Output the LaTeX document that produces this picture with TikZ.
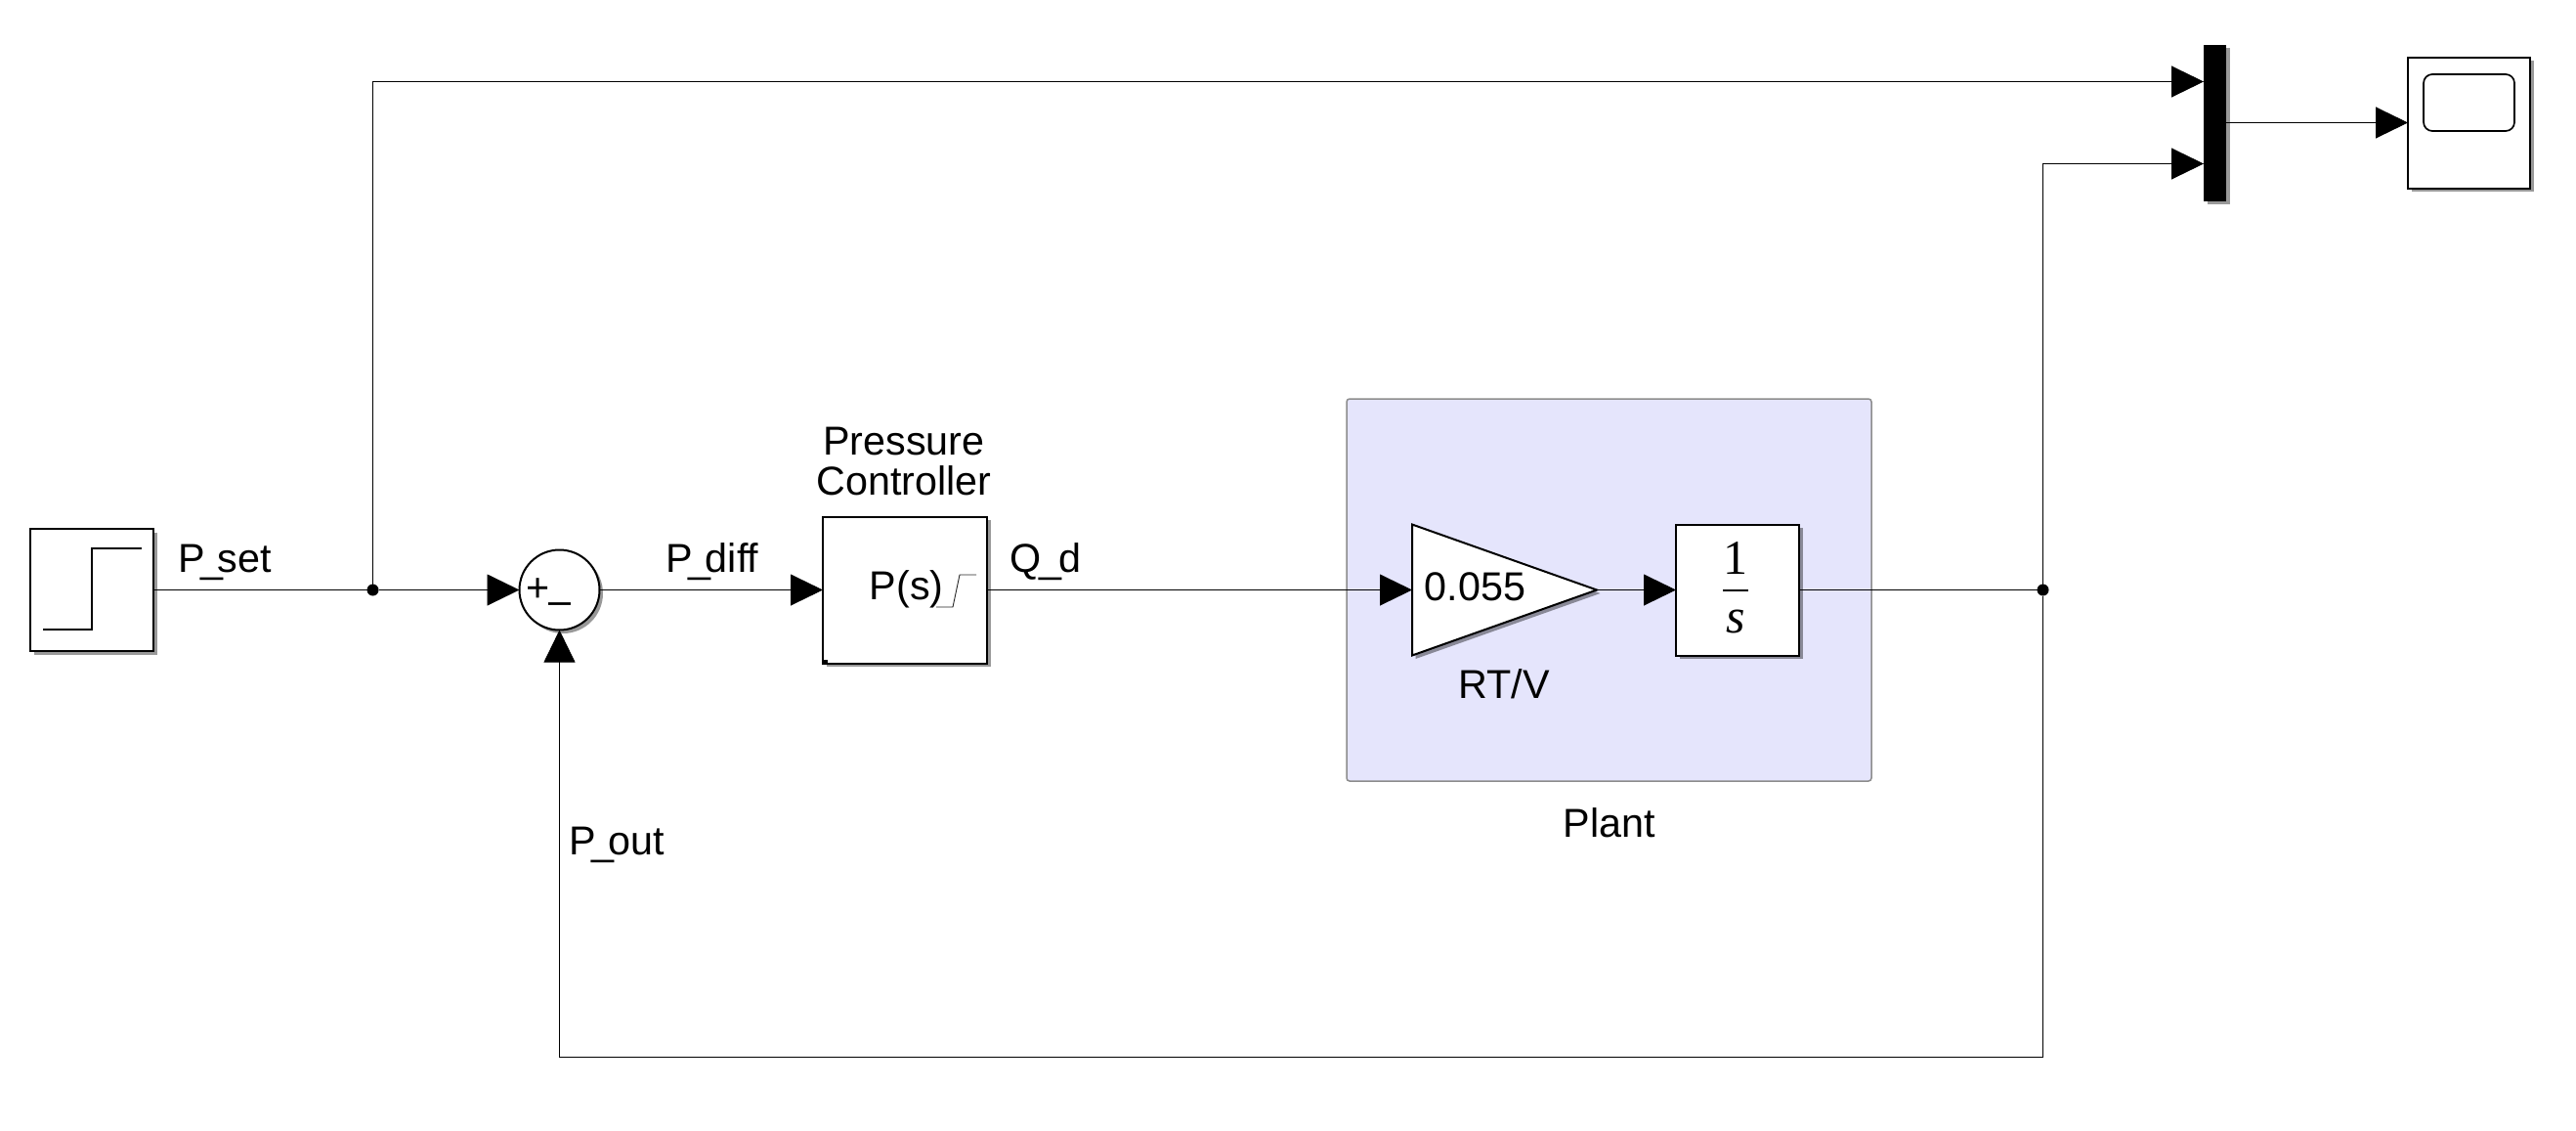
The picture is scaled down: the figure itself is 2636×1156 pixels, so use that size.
\documentclass[tikz,border=0pt]{standalone}
\usepackage{fontspec}
\setmainfont{Liberation Sans}
\newfontfamily\fracfont{Liberation Serif}
\usetikzlibrary{arrows.meta,shadows,shapes.geometric}
\newcommand{\usc}{\kern-0.125em\_\kern-0.125em}
\definecolor{plantblue}{HTML}{E5E5FC}
\tikzset{
  txt/.style={inner sep=0pt,font=\fontsize{11.75}{11.4}\selectfont},
  shd/.style={drop shadow={shadow xshift=0.35mm,shadow yshift=-0.35mm,fill=black,opacity=0.4}},
  blk/.style={draw,fill=white,line width=0.2mm,inner sep=0pt,outer sep=0pt,shd},
  dot/.style={circle,fill=black,inner sep=0pt,outer sep=0pt,minimum size=1.2mm},
  wire/.style={line width=0.09mm},
  sig/.style={line width=0.09mm,-{Triangle[length=3.3mm,width=3.2mm]}}
}
\begin{document}
\begin{tikzpicture}[x=0.1mm,y=-0.1mm]
    \useasboundingbox (0,0) rectangle (2636,1156);
    \node (plant) at (1646.5,603.5) [draw=black!45,line width=0.15mm,fill=plantblue,rounded corners=0.3mm,inner sep=0pt,minimum width=53.7mm,minimum height=39.1mm] {};
    \node (step) at (94,603.5) [blk,minimum width=12.6mm,minimum height=12.5mm] {};
    \node (jset) at (381.5,603.5) [dot] {};
    \node (sum) at (572.5,603.5) [blk,circle,minimum size=8.2mm] {};
    \node (ctrl) at (926,603.5) [blk,minimum width=16.8mm,minimum height=15mm] {};
    \node (gain) at (1445,603.5) [blk,isosceles triangle,isosceles triangle stretches,anchor=lower side,minimum width=13.4mm,minimum height=18.9mm] {};
    \node (integ) at (1778,603.5) [blk,minimum width=12.6mm,minimum height=13.4mm] {};
    \node (jout) at (2090.5,603.5) [dot] {};
    \node (mux) at (2266.5,125.5) [draw=none,fill=black,inner sep=0pt,outer sep=0pt,shd,minimum width=2.3mm,minimum height=16mm] {};
    \node (scope) at (2526.5,125.5) [blk,minimum width=12.5mm,minimum height=13.4mm] {};
    \coordinate (muxa) at (2255,83.5);
    \coordinate (muxb) at (2255,167.5);
    \coordinate (cbot) at (2090.5,1081.5);
    \draw[wire] (step) -- (jset);
    \draw[sig] (jset) -- (sum);
    \draw[sig] (jset) |- (muxa);
    \draw[sig] (sum) -- (ctrl);
    \draw[sig] (ctrl) -- (gain.lower side);
    \draw[sig] (gain.apex) -- (integ);
    \draw[wire] (integ) -- (jout);
    \draw[sig] (jout) |- (muxb);
    \draw[sig] (jout) -- (cbot) -| (sum.south);
    \draw[sig] (mux) -- (scope);
    \draw[line width=0.15mm] (44,644) -- (94,644) -- (94,561) -- (145,561);
    \draw[black!85,line width=0.09mm] (958,621) -- (975,621) -- (982,588) -- (999,588);
    \fill (ctrl.south west) rectangle ++(5,-4);
    \draw[line width=0.17mm,rounded corners=0.9mm] (2480,76) rectangle (2573,134);
    \draw[line width=0.2mm] (1763,603.5) -- (1789,603.5);
    \node (plus) at (551,604) [txt] {+};
    \node (minus) at (572.5,623) [txt] {--};
    \node (pset) at (182,585) [txt,anchor=base west] {P\usc set};
    \node (pdiff) at (681,585) [txt,anchor=base west] {P\usc diff};
    \node (qd) at (1033,585) [txt,anchor=base west] {Q\kern-0.06em\_\kern-0.06em d};
    \node (pout) at (582,874) [txt,anchor=base west] {P\usc out};
    \node (ctrlname) at (925,506) [txt,anchor=base,align=center] {Pressure\\Controller};
    \node (ps) at (889,613) [txt,anchor=base west] {P(s)};
    \node (gainval) at (1457,614) [txt,anchor=base west] {0.055};
    \node (rtv) at (1539,714) [txt,anchor=base] {RT/V};
    \node (plantname) at (1647,856) [txt,anchor=base] {Plant};
    \node (one) at (1776,587) [inner sep=0pt,anchor=base,font=\fracfont\fontsize{14.2}{14.2}\selectfont] {1};
    \node (ess) at (1776,647) [inner sep=0pt,anchor=base,font=\fracfont\itshape\fontsize{14.2}{14.2}\selectfont] {s};
\end{tikzpicture}
\end{document}
